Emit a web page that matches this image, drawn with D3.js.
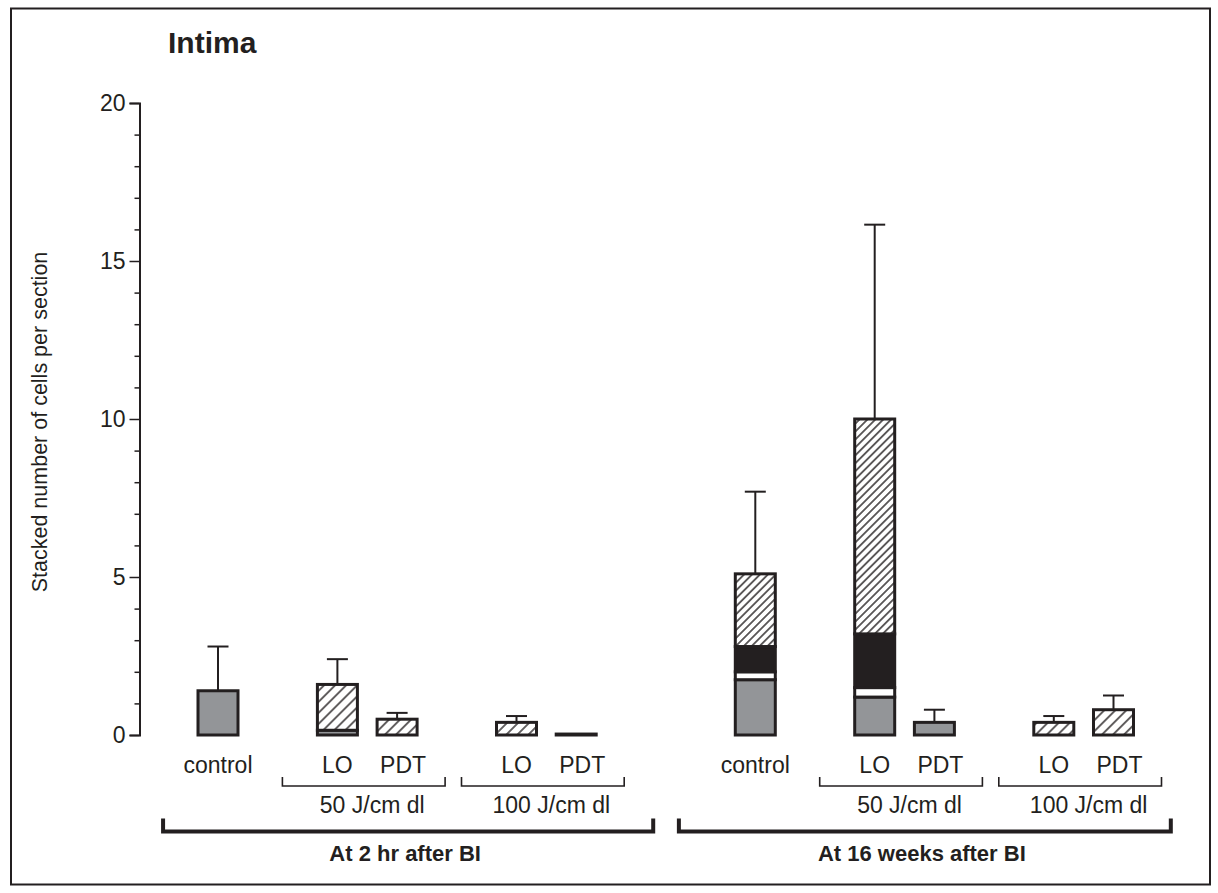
<!DOCTYPE html>
<html>
<head>
<meta charset="utf-8">
<script src="https://cdn.jsdelivr.net/npm/d3@7"></script>
<style>
  html, body { margin: 0; padding: 0; background: #fff; }
  svg { display: block; font-family: "Liberation Sans", Arial, Helvetica, sans-serif; }
</style>
</head>
<body>
<svg id="chart" width="1218" height="893"></svg>
<script>
// ---- data -------------------------------------------------------------
// Bars in order: 2 hr (control, 50 LO, 50 PDT, 100 LO, 100 PDT),
//                16 weeks (control, 50 LO, 50 PDT, 100 LO, 100 PDT)
const timepoints = ["At 2 hr after BI", "At 16 weeks after BI"];
const doses = ["50 J/cm dl", "100 J/cm dl"];
const treatments = ["LO", "PDT"];
const barLabels = ["control", "LO", "PDT", "LO", "PDT",
                   "control", "LO", "PDT", "LO", "PDT"];

// stacked cell counts per section, bottom to top
const greyCells    = [1.4, 0.15, 0,   0,   0,    1.75, 1.2, 0.4, 0,   0];
const whiteCells   = [0,   0,    0,   0,   0,    0.25, 0.3, 0,   0,   0];
const blackCells   = [0,   0,    0,   0,   0,    0.8,  1.7, 0,   0,   0];
const hatchedCells = [0,   1.45, 0.5, 0.4, 0.03, 2.3,  6.8, 0,   0.4, 0.8];
// upper end of the error bar (null = none drawn)
const errorTop     = [2.8, 2.4,  0.7, 0.6, null, 7.7, 16.15, 0.8, 0.6, 1.25];

const yTicks = [0, 5, 10, 15, 20];

// ---- layout -----------------------------------------------------------
const svg = d3.select("#chart");
const ink = "#231f20";
const greyFill = "#939598";

// slot index of each bar: control, gap, LO PDT, gap, LO PDT, then next timepoint
function slotOf(i) {
  const t = Math.floor(i / 5), k = i % 5;
  if (k === 0) return t * 9;
  const d = Math.floor((k - 1) / 2), tr = (k - 1) % 2;
  return t * 9 + 2 + 3 * d + tr;
}

const x = d3.scaleLinear().domain([0, 15]).range([218, 1113.5]);
const y = d3.scaleLinear().domain([0, 20]).range([735, 103]);
const barW = 40;

// frame
svg.append("rect")
  .attr("x", 11).attr("y", 8.5).attr("width", 1199).attr("height", 876)
  .attr("fill", "none").attr("stroke", ink).attr("stroke-width", 2);

// title
svg.append("text")
  .attr("x", 168).attr("y", 53)
  .attr("font-size", 30).attr("font-weight", "bold").attr("fill", ink)
  .text("Intima");

// hatch patterns
const defs = svg.append("defs");
function hatch(id, gap) {
  const p = defs.append("pattern")
    .attr("id", id).attr("patternUnits", "userSpaceOnUse")
    .attr("width", gap).attr("height", gap)
    .attr("patternTransform", "rotate(45)");
  p.append("rect").attr("width", gap).attr("height", gap).attr("fill", "#fff");
  p.append("line").attr("x1", gap / 2).attr("x2", gap / 2)
    .attr("y1", 0).attr("y2", gap)
    .attr("stroke", ink).attr("stroke-width", 1.4);
}
hatch("hatchWide", 7.8);
hatch("hatchFine", 5.6);

// y axis with major and minor ticks
const axisX = 139.5;
const yAxis = svg.append("g")
  .attr("transform", `translate(${axisX},0)`)
  .call(d3.axisLeft(y).tickValues(yTicks).tickSize(10).tickPadding(4));
yAxis.select(".domain").attr("stroke", ink).attr("stroke-width", 2);
yAxis.selectAll(".tick line").attr("stroke", ink).attr("stroke-width", 1.5);
yAxis.selectAll(".tick text")
  .attr("font-size", 23).attr("fill", ink)
  .attr("font-family", "'Liberation Sans', Arial, sans-serif");

const minor = svg.append("g")
  .attr("transform", `translate(${axisX},0)`)
  .call(d3.axisLeft(y).tickValues(d3.range(0, 21).filter(v => v % 5 !== 0))
    .tickSize(5).tickFormat(""));
minor.select(".domain").remove();
minor.selectAll(".tick line").attr("stroke", ink).attr("stroke-width", 1.5);

// y axis title
svg.append("text")
  .attr("transform", `translate(47,${(y(0) + y(20)) / 2 + 3}) rotate(-90)`)
  .attr("text-anchor", "middle")
  .attr("font-size", 21.5).attr("fill", ink)
  .text("Stacked number of cells per section");

// ---- bars -------------------------------------------------------------
const seriesKeys = ["grey", "white", "black", "hatched"];
const rows = barLabels.map((lab, i) => ({
  i, lab,
  grey: greyCells[i], white: whiteCells[i],
  black: blackCells[i], hatched: hatchedCells[i],
  err: errorTop[i]
}));
const stacked = d3.stack().keys(seriesKeys)(rows);
const fills = {
  grey: () => greyFill,
  white: () => "#fff",
  black: () => ink,
  hatched: d => (d.data.err && d[1] > 4 ? "url(#hatchFine)" : "url(#hatchWide)")
};

// error bars (drawn first, the bar outline covers their base)
const eg = svg.append("g");
rows.filter(r => r.err != null).forEach(r => {
  const total = r.grey + r.white + r.black + r.hatched;
  const cx = x(slotOf(r.i));
  eg.append("line")
    .attr("x1", cx).attr("x2", cx).attr("y1", y(total)).attr("y2", y(r.err))
    .attr("stroke", ink).attr("stroke-width", 2);
  eg.append("line")
    .attr("x1", cx - 10.5).attr("x2", cx + 10.5).attr("y1", y(r.err)).attr("y2", y(r.err))
    .attr("stroke", ink).attr("stroke-width", 2);
});

const bars = svg.append("g");
stacked.forEach(layer => {
  bars.selectAll(null)
    .data(layer.filter(d => d[1] - d[0] > 0))
    .join("rect")
    .attr("x", d => x(slotOf(d.data.i)) - barW / 2)
    .attr("width", barW)
    .attr("y", d => y(d[1]))
    .attr("height", d => y(d[0]) - y(d[1]))
    .attr("fill", fills[layer.key])
    .attr("stroke", ink)
    .attr("stroke-width", 3);
});

// ---- category labels and brackets ------------------------------------
const lab = svg.append("g").attr("fill", ink).attr("font-size", 23).attr("text-anchor", "middle");
barLabels.forEach((t, i) => {
  lab.append("text")
    .attr("x", x(slotOf(i)) + (t === "PDT" ? 6 : 0))
    .attr("y", 773)
    .text(t);
});

// dose brackets under each LO/PDT pair
timepoints.forEach((tp, t) => {
  doses.forEach((ds, d) => {
    const loX = x(t * 9 + 2 + 3 * d), pdtX = x(t * 9 + 3 + 3 * d);
    const x0 = loX - 55, x1 = pdtX + 48, by = 786;
    svg.append("path")
      .attr("d", `M${x0},${by - 9}V${by}H${x1}V${by - 9}`)
      .attr("fill", "none").attr("stroke", ink).attr("stroke-width", 1.6);
    lab.append("text")
      .attr("x", (loX + pdtX) / 2 + 5).attr("y", 813)
      .text(ds);
  });
});

// timepoint brackets
const timeSpans = [[-0.92, 7.29], [7.72, 15.96]];
timepoints.forEach((tp, t) => {
  const x0 = x(timeSpans[t][0]), x1 = x(timeSpans[t][1]), by = 831.5;
  svg.append("path")
    .attr("d", `M${x0},${by - 13}V${by}H${x1}V${by - 13}`)
    .attr("fill", "none").attr("stroke", ink).attr("stroke-width", 4);
  svg.append("text")
    .attr("x", (x0 + x1) / 2 - 3).attr("y", 861)
    .attr("text-anchor", "middle").attr("font-size", 22)
    .attr("font-weight", "bold").attr("fill", ink)
    .text(tp);
});
</script>
</body>
</html>
